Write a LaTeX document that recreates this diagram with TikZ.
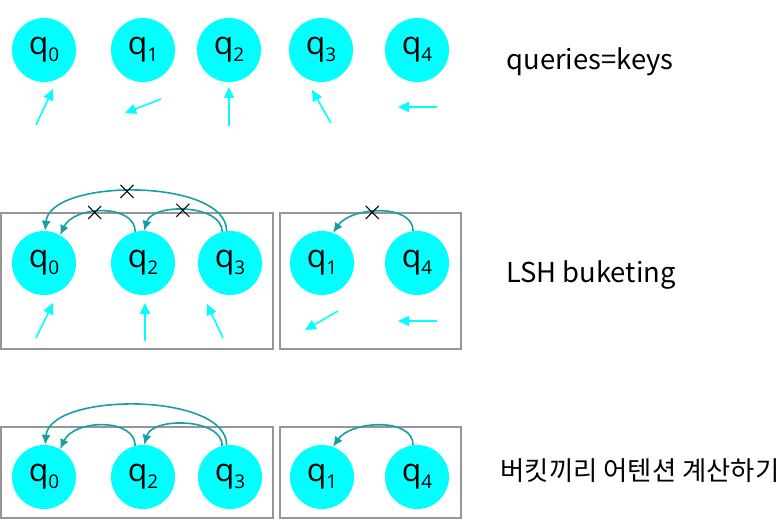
\documentclass[tikz,border=0pt]{standalone}
\usepackage{fontspec}
\setmainfont{Open Sans}
\newfontfamily\krfont{Noto Sans CJK KR}
\usetikzlibrary{arrows.meta,shapes.misc}
\definecolor{qcyan}{RGB}{0,255,255}
\definecolor{qteal}{RGB}{22,160,165}
\definecolor{boxgray}{RGB}{150,150,150}
\newcommand{\qlab}[1]{q\raisebox{-7bp}{\fontsize{19}{19}\selectfont #1}}

\begin{document}
\begin{tikzpicture}[x=1bp,y=-1bp,
  query/.style={circle,fill=qcyan,minimum size=64bp,inner sep=0pt,font=\fontsize{32}{32}\selectfont},
  vec/.style={qcyan,line width=1.6bp,-{Triangle[length=11bp,width=10bp]}},
  attn/.style={qteal,line width=1.6bp,-{Latex[length=10bp,width=9bp]}},
  xmark/.style={cross out,draw=black,line width=1bp,minimum size=12bp,inner sep=0pt},
  bucket/.style={draw=boxgray,line width=1.5bp},
  sidetext/.style={font=\krfont\fontsize{27.5}{27.5}\selectfont}]
\useasboundingbox (0,0) rectangle (783,521);

% queries=keys
\node[query] (q0) at (44,50) {\qlab{0}};
\node[query] (q1) at (143,50) {\qlab{1}};
\node[query] (q2) at (229,50) {\qlab{2}};
\node[query] (q3) at (321,50) {\qlab{3}};
\node[query] (q4) at (417,50) {\qlab{4}};
\draw[vec] (36,125) -- (53,89);
\draw[vec] (161,99) -- (125,113);
\draw[vec] (229,126) -- (229,87);
\draw[vec] (331,123) -- (312,90);
\draw[vec] (437,107) -- (398,107);
\node[sidetext] (t1) at (590,62) {queries=keys};

% LSH buckets
\draw[bucket] (1,213) rectangle (273,349);
\draw[bucket] (280,213) rectangle (461,349);
\node[query] (lsh0) at (44,263) {\qlab{0}};
\node[query] (lsh2) at (143,263) {\qlab{2}};
\node[query] (lsh3) at (230,263) {\qlab{3}};
\node[query] (lsh1) at (322,263) {\qlab{1}};
\node[query] (lsh4) at (417,263) {\qlab{4}};
\draw[attn] (lsh3.96) .. controls +(0,-53) and +(5,-53) .. (lsh0.88) node[xmark,pos=0.54] {};
\draw[attn] (lsh2.104) .. controls +(0,-28) and +(14,-30) .. (lsh0.60) node[xmark,pos=0.58] {};
\draw[attn] (lsh3.104) .. controls +(0,-28) and +(8,-28) .. (lsh2.88) node[xmark,pos=0.53] {};
\draw[attn] (lsh4.97) .. controls +(0,-28) and +(18,-26) .. (lsh1.70) node[xmark,pos=0.57] {};
\draw[vec] (36,338) -- (53,303);
\draw[vec] (145,341) -- (145,303);
\draw[vec] (223,338) -- (207,304);
\draw[vec] (338,311) -- (305,330);
\draw[vec] (437,321) -- (398,321);
\node[sidetext] (t2) at (591,275) {LSH buketing};

% attention inside buckets
\draw[bucket] (1,427) rectangle (273,518);
\draw[bucket] (280,427) rectangle (461,518);
\node[query] (att0) at (44,477) {\qlab{0}};
\node[query] (att2) at (143,477) {\qlab{2}};
\node[query] (att3) at (230,477) {\qlab{3}};
\node[query] (att1) at (322,477) {\qlab{1}};
\node[query] (att4) at (417,477) {\qlab{4}};
\draw[attn] (att3.96) .. controls +(0,-53) and +(5,-53) .. (att0.88);
\draw[attn] (att2.104) .. controls +(0,-28) and +(14,-30) .. (att0.60);
\draw[attn] (att3.104) .. controls +(0,-28) and +(8,-28) .. (att2.88);
\draw[attn] (att4.97) .. controls +(0,-28) and +(18,-26) .. (att1.70);
\node[sidetext,font=\krfont\fontsize{26.5}{26.5}\selectfont] (t3) at (640,471) {버킷끼리 어텐션 계산하기};
\end{tikzpicture}
\end{document}
